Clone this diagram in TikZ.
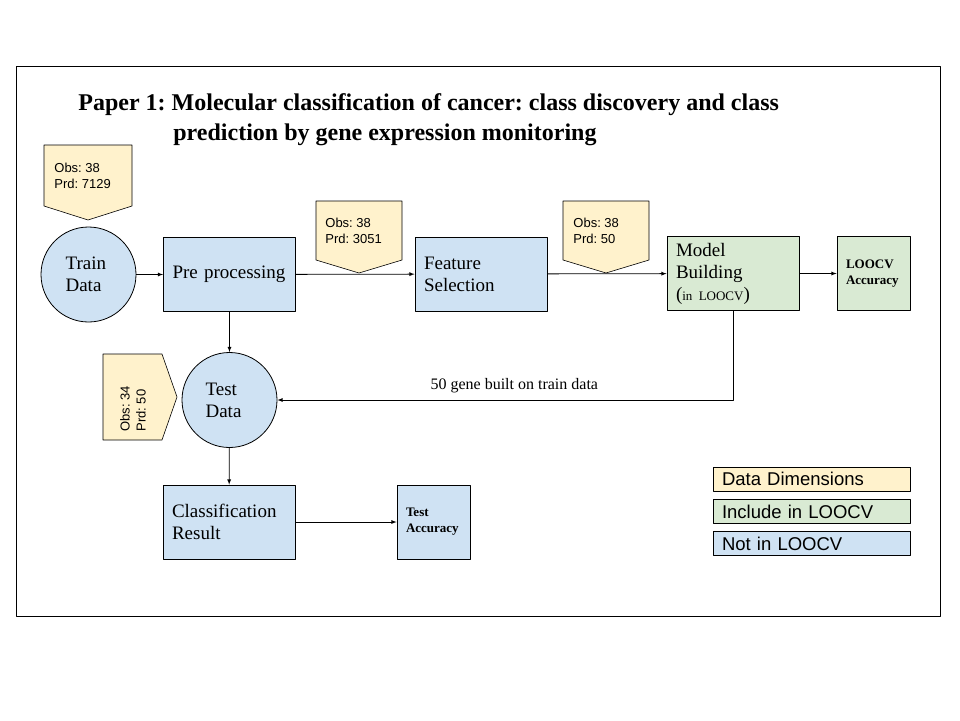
\documentclass[tikz,border=0pt]{standalone}
\usepackage{fontspec}
\setmainfont{Liberation Serif}
\newfontfamily\arialfont{Liberation Sans}
\usepackage{tikz}
\usetikzlibrary{shapes,arrows}
\usetikzlibrary{positioning}
\frenchspacing
\newcommand{\nohyph}{\hyphenpenalty=10000\relax}
\definecolor{dimyellow}{HTML}{FFF2CC}
\definecolor{loocvgreen}{HTML}{D9EAD3}
\definecolor{notblue}{HTML}{CFE2F3}
\tikzstyle{every path}=[line width=0.8pt,line cap=round,line join=round]
\tikzstyle{stagebox}=[draw,rectangle,fill=notblue,minimum width=132pt,minimum height=74pt,text width=114pt,align=left,inner sep=0pt,font=\fontsize{19}{22}\selectfont\nohyph]
\tikzstyle{smallbox}=[draw,rectangle,fill=notblue,minimum width=73pt,minimum height=74pt,text width=55pt,align=left,inner sep=0pt,font=\fontsize{13}{16}\selectfont\bfseries]
\tikzstyle{datacircle}=[draw,circle,fill=notblue,minimum size=95pt,inner sep=0pt,align=left,font=\fontsize{19}{22}\selectfont]
\tikzstyle{dimtag}=[draw,fill=dimyellow,line width=0.6pt]
\tikzstyle{dimtext}=[align=left,inner sep=0pt,font=\arialfont\fontsize{13}{16}\selectfont]
\tikzstyle{legendbox}=[draw,rectangle,minimum width=197pt,minimum height=24pt,text width=179pt,align=left,inner sep=0pt,font=\arialfont\fontsize{18.5}{20}\selectfont]

\begin{document}
\begin{tikzpicture}[x=1pt,y=-1pt]
\useasboundingbox (0,0) rectangle (960,720);
\draw [thin] (16,66) rectangle (940,616);

% title
\node [anchor=base west,inner sep=0pt,font=\fontsize{24}{26}\selectfont\bfseries] (title1) at (78,110) {Paper 1: Molecular classification of cancer: class discovery and class};
\node [anchor=base west,inner sep=0pt,font=\fontsize{24}{26}\selectfont\bfseries] (title2) at (173,140) {prediction by gene expression monitoring};

% data dimension tags
\draw [dimtag] (44,145) -- (132,145) -- (132,206) -- (88,220) -- (44,206) -- cycle;
\node [dimtext,anchor=west] (dimtrain) at (54,176) {Obs: 38\\Prd: 7129};
\draw [dimtag] (316,201) -- (402,201) -- (402,260) -- (359,273) -- (316,260) -- cycle;
\node [dimtext,anchor=west] (dimpre) at (325,231) {Obs: 38\\Prd: 3051};
\draw [dimtag] (563,201) -- (649,201) -- (649,260) -- (606,273) -- (563,260) -- cycle;
\node [dimtext,anchor=west] (dimfeat) at (573,231) {Obs: 38\\Prd: 50};
\draw [dimtag] (103,354) -- (162,354) -- (177,397) -- (162,440) -- (103,440) -- cycle;
\node [dimtext,anchor=west,rotate=90] (dimtest) at (133,432) {Obs: 34\\Prd: 50};

% stages
\node [datacircle] (train) at (88.5,274.5) {Train\\Data\hspace*{10pt}};
\node [stagebox] (pre) at (229.5,274.5) {Pre processing};
\node [stagebox] (feat) at (481,274) {Feature\\Selection};
\node [stagebox,fill=loocvgreen] (model) at (733,273.5) {Model\\Building\\({\fontsize{13}{13}\selectfont in LOOCV})};
\node [smallbox,fill=loocvgreen] (loocvacc) at (873.5,273.5) {LOOCV\\Accuracy};
\node [datacircle] (test) at (229.5,400) {Test\\Data\hspace*{12pt}};
\node [stagebox] (classif) at (229,522) {Classification\\Result};
\node [smallbox] (testacc) at (433.5,522) {Test\\Accuracy};

% connectors
\draw [-latex] (train) -- (pre);
\draw [-latex] (pre) -- (feat);
\draw [-latex] (feat) -- (model);
\draw [-latex] (model) -- (loocvacc);
\draw [-latex] (pre) -- (test);
\draw [-latex] (model.south) |- (test.east) node [pos=0.74,above=3pt,font=\fontsize{16}{18}\selectfont] (genes) {50 gene built on train data};
\draw [-latex] (test) -- (classif);
\draw [-latex] (classif) -- (testacc);

% legend
\node [legendbox,fill=dimyellow] (legdim) at (811.5,479) {Data Dimensions};
\node [legendbox,fill=loocvgreen] (legin) at (811.5,511.5) {Include in LOOCV};
\node [legendbox,fill=notblue] (legnot) at (811.5,543.5) {Not in LOOCV};
\end{tikzpicture}
\end{document}
